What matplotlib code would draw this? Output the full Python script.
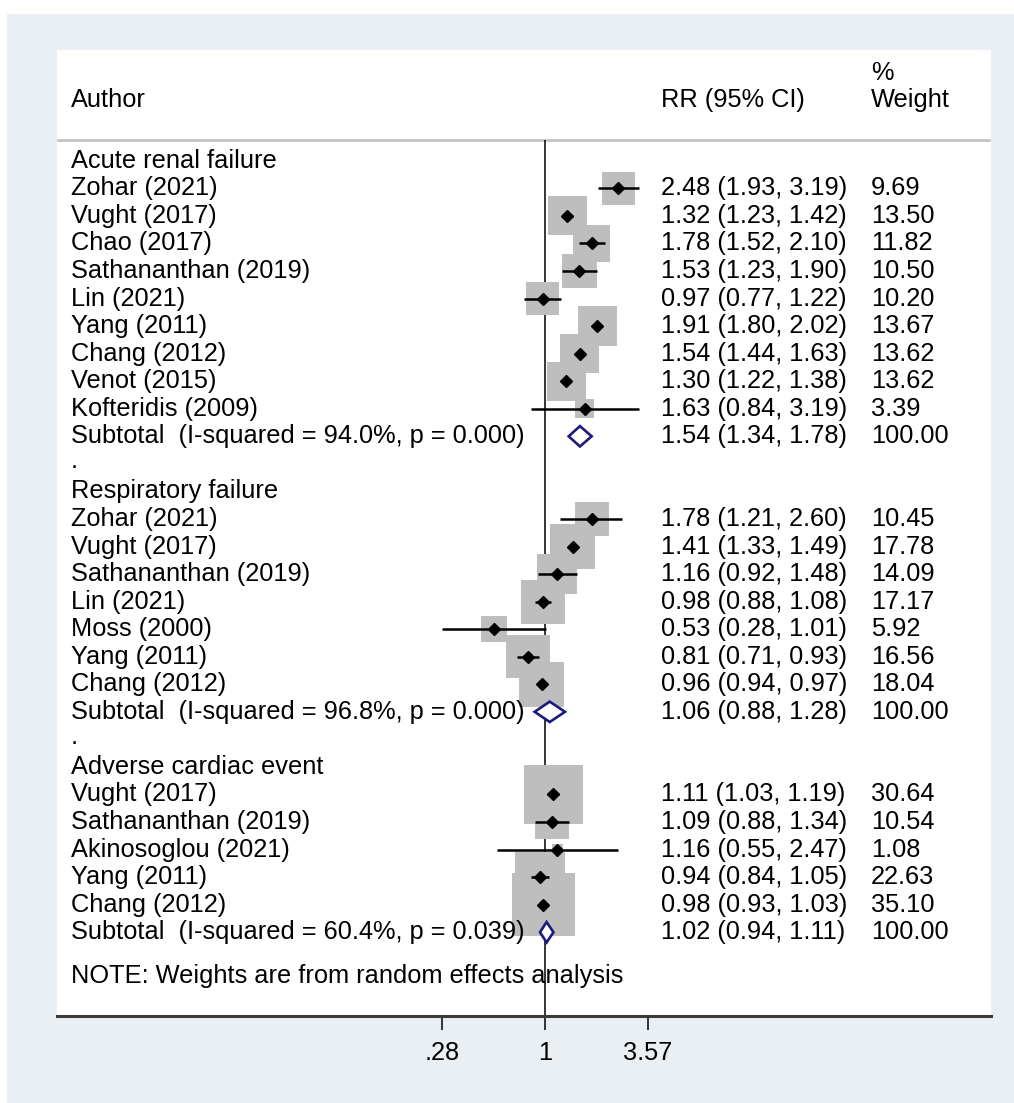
import numpy as np
import matplotlib
matplotlib.use("Agg")
import matplotlib.pyplot as plt
from matplotlib.patches import Rectangle, Polygon
from matplotlib.transforms import blended_transform_factory
from matplotlib.ticker import FixedLocator, FixedFormatter, NullLocator

plt.rcParams["font.family"] = ["Liberation Sans", "DejaVu Sans"]

# ---- data -------------------------------------------------------------
group_names = ["Acute renal failure", "Respiratory failure", "Adverse cardiac event"]

arf_studies = ["Zohar (2021)", "Vught (2017)", "Chao (2017)", "Sathananthan (2019)",
               "Lin (2021)", "Yang (2011)", "Chang (2012)", "Venot (2015)",
               "Kofteridis (2009)"]
arf_rr = [2.48, 1.32, 1.78, 1.53, 0.97, 1.91, 1.54, 1.30, 1.63]
arf_lo = [1.93, 1.23, 1.52, 1.23, 0.77, 1.80, 1.44, 1.22, 0.84]
arf_hi = [3.19, 1.42, 2.10, 1.90, 1.22, 2.02, 1.63, 1.38, 3.19]
arf_wt = [9.69, 13.50, 11.82, 10.50, 10.20, 13.67, 13.62, 13.62, 3.39]

resp_studies = ["Zohar (2021)", "Vught (2017)", "Sathananthan (2019)", "Lin (2021)",
                "Moss (2000)", "Yang (2011)", "Chang (2012)"]
resp_rr = [1.78, 1.41, 1.16, 0.98, 0.53, 0.81, 0.96]
resp_lo = [1.21, 1.33, 0.92, 0.88, 0.28, 0.71, 0.94]
resp_hi = [2.60, 1.49, 1.48, 1.08, 1.01, 0.93, 0.97]
resp_wt = [10.45, 17.78, 14.09, 17.17, 5.92, 16.56, 18.04]

card_studies = ["Vught (2017)", "Sathananthan (2019)", "Akinosoglou (2021)",
                "Yang (2011)", "Chang (2012)"]
card_rr = [1.11, 1.09, 1.16, 0.94, 0.98]
card_lo = [1.03, 0.88, 0.55, 0.84, 0.93]
card_hi = [1.19, 1.34, 2.47, 1.05, 1.03]
card_wt = [30.64, 10.54, 1.08, 22.63, 35.10]

subtotal_labels = ["Subtotal  (I-squared = 94.0%, p = 0.000)",
                   "Subtotal  (I-squared = 96.8%, p = 0.000)",
                   "Subtotal  (I-squared = 60.4%, p = 0.039)"]
subtotal_rr = [1.54, 1.06, 1.02]
subtotal_lo = [1.34, 0.88, 0.94]
subtotal_hi = [1.78, 1.28, 1.11]
subtotal_wt = [100.00, 100.00, 100.00]

x_ticks = [0.28, 1.0, 3.57]
x_tick_labels = [".28", "1", "3.57"]

note_text = "NOTE: Weights are from random effects analysis"

groups = [
    (arf_studies, arf_rr, arf_lo, arf_hi, arf_wt),
    (resp_studies, resp_rr, resp_lo, resp_hi, resp_wt),
    (card_studies, card_rr, card_lo, card_hi, card_wt),
]

# ---- figure layout ----------------------------------------------------
W, H = 1014, 1103
fig = plt.figure(figsize=(W / 100, H / 100), dpi=100, facecolor="white")
fig.patches.append(Rectangle((7 / W, 0), 1 - 7 / W, (H - 14) / H,
                             transform=fig.transFigure, facecolor="#E9EFF2",
                             edgecolor="none", zorder=-10))

ax_left, ax_right, ax_top, ax_bottom = 57, 991, 50, 1016
ax = fig.add_axes([ax_left / W, (H - ax_bottom) / H,
                   (ax_right - ax_left) / W, (ax_bottom - ax_top) / H])
ax.set_facecolor("white")
ax.set_xscale("log")
ax.set_xlim(0.002400, 247.9)
ax.set_ylim(31.04, -4.02)

for side in ("top", "left", "right"):
    ax.spines[side].set_visible(False)
ax.spines["bottom"].set_color("#3A3A3A")
ax.spines["bottom"].set_linewidth(2.2)

ax.xaxis.set_major_locator(FixedLocator(x_ticks))
ax.xaxis.set_major_formatter(FixedFormatter(x_tick_labels))
ax.xaxis.set_minor_locator(NullLocator())
ax.set_yticks([])
ax.tick_params(axis="x", length=10, width=1.1, color="black", pad=8,
               labelsize=18.3, labelcolor="black")

FS = 18.3
tr = blended_transform_factory(ax.transAxes, ax.transData)
col_author, col_rr, col_wt = 0.015, 0.6467, 0.8715

# header
header_row = -2.2
ax.text(col_author, header_row, "Author", transform=tr, fontsize=FS, va="center")
ax.text(col_rr, header_row, "RR (95% CI)", transform=tr, fontsize=FS, va="center")
ax.text(col_wt, header_row, "Weight", transform=tr, fontsize=FS, va="center")
ax.text(col_wt, header_row - 1.0, "%", transform=tr, fontsize=FS, va="center")
ax.axhline(-0.75, color="#C4C4C4", lw=2.0, zorder=1)

# null line
ax.plot([1, 1], [-0.75, 31.04], color="black", lw=1.1, zorder=1,
        solid_capstyle="butt")

box_scale = 58.2  # marker area (pt^2) per percentage point of weight
navy = "#1B1B7E"

row = 0
for gi, (names, rr, lo, hi, wt) in enumerate(groups):
    ax.text(col_author, row, group_names[gi], transform=tr, fontsize=FS, va="center")
    row += 1
    rows = np.arange(row, row + len(names))
    ax.scatter(rr, rows, s=np.array(wt) * box_scale, marker="s",
               color="#BEBEBE", linewidths=0, zorder=2)
    ax.hlines(rows, lo, hi, color="black", lw=1.8, zorder=3)
    ax.plot(rr, rows, linestyle="none", marker="D", markersize=5.8,
            color="black", zorder=4)
    for r, name, e, l, h, w in zip(rows, names, rr, lo, hi, wt):
        ax.text(col_author, r, name, transform=tr, fontsize=FS, va="center")
        ax.text(col_rr, r, f"{e:.2f} ({l:.2f}, {h:.2f})", transform=tr,
                fontsize=FS, va="center")
        ax.text(col_wt, r, f"{w:.2f}", transform=tr, fontsize=FS, va="center")
    row += len(names)

    # pooled estimate
    e, l, h = subtotal_rr[gi], subtotal_lo[gi], subtotal_hi[gi]
    dh = 0.37
    ax.add_patch(Polygon([(l, row), (e, row - dh), (h, row), (e, row + dh)],
                         closed=True, facecolor="white", edgecolor=navy,
                         lw=1.9, zorder=4))
    ax.text(col_author, row, subtotal_labels[gi], transform=tr, fontsize=FS, va="center")
    ax.text(col_rr, row, f"{e:.2f} ({l:.2f}, {h:.2f})", transform=tr,
            fontsize=FS, va="center")
    ax.text(col_wt, row, f"{subtotal_wt[gi]:.2f}", transform=tr,
            fontsize=FS, va="center")
    row += 1
    if gi < len(groups) - 1:
        ax.text(col_author, row - 0.1, ".", transform=tr, fontsize=FS, va="center")
        row += 1

ax.text(col_author, 29.6, note_text, transform=tr, fontsize=FS, va="center", zorder=0)

fig.savefig("out.png", dpi=100, facecolor=fig.get_facecolor())
